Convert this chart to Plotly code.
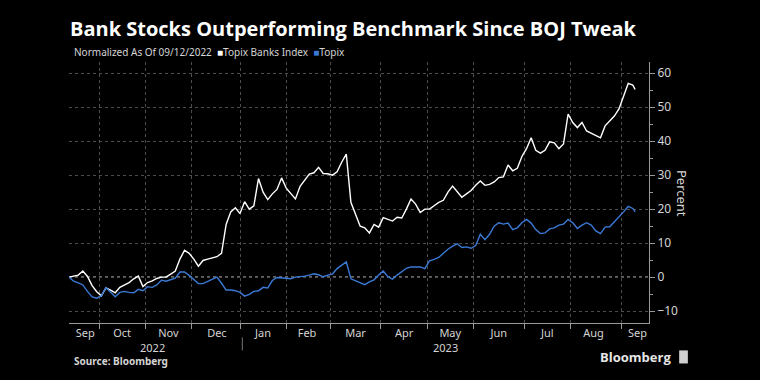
import pandas as pd
import plotly.graph_objects as go

# Tokyo Stock Exchange holidays falling on weekdays in the period
JP_HOLIDAYS = [
    "2022-09-19", "2022-09-23", "2022-10-10", "2022-11-03", "2022-11-23",
    "2023-01-02", "2023-01-03", "2023-01-09", "2023-02-23", "2023-03-21",
    "2023-05-03", "2023-05-04", "2023-05-05", "2023-07-17", "2023-08-11",
    "2023-09-18",
]

trading_days = [d for d in pd.bdate_range("2022-09-12", "2023-09-12")
                if d.strftime("%Y-%m-%d") not in JP_HOLIDAYS]
# values read every second trading session, plus the last session
sample_idx = list(range(0, 245, 2)) + [245]
dates = [trading_days[i] for i in sample_idx]

banks_index = [
    0, 0.2, 0.6, 1.8, 0.2, -2.5, -4.3, -5.5, -3.2, -3.8,
    -4.6, -3, -2.2, -1.6, -0.5, 0.3, -2.8, -1.6, -1.1, -0.4,
    0, 0, 0.9, 1.8, 5.3, 7.9, 7, 5.3, 3.2, 4.9,
    5.3, 5.6, 6, 7, 15.5, 19.2, 20.4, 18.7, 22.2, 20,
    21, 29, 25, 22.8, 24.5, 25.8, 29.2, 26.2, 24.5, 23,
    26.7, 28.5, 30.3, 30.7, 32.3, 30.5, 30.4, 30, 31, 33.8,
    36.2, 22, 18.5, 15, 14.5, 13, 15.5, 14.7, 17.5, 17,
    16.5, 17.6, 17.4, 20, 23, 21.5, 19, 20, 20, 21,
    22, 22.6, 25, 26.8, 25, 23.5, 24.5, 25.5, 27, 28.3,
    27, 27.3, 28, 29.3, 29.5, 33, 31.3, 32, 35.5, 37.8,
    41, 37.3, 36.5, 37.3, 39.8, 39.5, 37.8, 39.2, 48, 45.5,
    44, 45.5, 43, 42.3, 41.8, 41, 44.5, 45.9, 47.4, 49.5,
    53.5, 57, 56.5, 55.2,
]

topix = [
    0, -1.2, -1.7, -2.3, -4.2, -5.8, -6.2, -5.5, -3.1, -4.6,
    -5.8, -4.5, -4.2, -4.5, -4.6, -3.6, -4, -2.8, -3, -2.3,
    -0.9, -1.2, -0.7, -0.3, 1.5, 1.5, 0.5, -0.7, -1.9, -1.9,
    -1.2, -0.5, 0, -1.8, -3.8, -3.8, -4, -4.5, -5.6, -5.1,
    -4.2, -4, -3, -3.2, -1, -0.1, -0.2, -0.4, -0.5, 0,
    0.1, 0.3, 0.6, 1, 0.7, 0.1, 0.6, 0.9, 2.5, 3.5,
    4.5, -0.5, -1, -1.7, -2.2, -1.4, -0.8, 0.6, 1.8, 0.1,
    -0.6, 0.6, 1.5, 2.6, 3, 3, 3, 2.5, 4.8, 5.2,
    5.8, 7, 8.2, 9.1, 9.8, 8.7, 8.9, 8.5, 9.3, 12.6,
    11, 12.6, 15, 16, 15.6, 15.9, 14, 14.5, 16, 17,
    15.9, 14, 12.8, 13, 14.2, 14.5, 15.3, 15.6, 17, 16,
    14.3, 15.3, 16, 15.3, 13.6, 12.8, 14.7, 14.8, 16.2, 17.7,
    19.2, 20.8, 20.2, 19.2,
]

month_tick_dates = [
    "2022-09-22", "2022-10-18", "2022-11-16", "2022-12-16", "2023-01-18",
    "2023-02-14", "2023-03-16", "2023-04-17", "2023-05-18", "2023-06-16",
    "2023-07-18", "2023-08-16", "2023-09-12",
]
month_tick_labels = ["Sep", "Oct", "Nov", "Dec", "Jan", "Feb", "Mar",
                     "Apr", "May", "Jun", "Jul", "Aug", "Sep"]
year_label_dates = ["2022-11-07", "2023-05-16"]
year_labels = ["2022", "2023"]
year_break_date = "2023-01-04"

y_ticks = [-10, 0, 10, 20, 30, 40, 50, 60]

WHITE = "#ffffff"
BLUE = "#3a7ad6"
TXT = "#d4d4d4"
GRID = "#4d4d4d"
AXIS = "#9a9a9a"
FONT = "Noto Sans"

fig = go.Figure()
fig.add_trace(go.Scatter(x=dates, y=banks_index, mode="lines",
                         name="Topix Banks Index",
                         line=dict(color=WHITE, width=1.4)))
fig.add_trace(go.Scatter(x=dates, y=topix, mode="lines", name="Topix",
                         line=dict(color=BLUE, width=1.4)))

fig.update_layout(
    width=760, height=380,
    paper_bgcolor="#000000", plot_bgcolor="#000000",
    margin=dict(l=69, r=111, t=62, b=57),
    showlegend=False,
    font=dict(family=FONT, color=TXT, size=12),
    title=dict(text="<b>Bank Stocks Outperforming Benchmark Since BOJ Tweak</b>",
               x=70 / 760, xanchor="left", y=1 - 29 / 380, yanchor="middle",
               font=dict(family="Open Sans", size=20, color="#ffffff")),
)

fig.update_xaxes(
    type="date",
    range=["2022-09-12", "2023-09-20"],
    rangebreaks=[dict(bounds=["sat", "mon"]), dict(values=JP_HOLIDAYS)],
    tickmode="array", tickvals=month_tick_dates, ticktext=month_tick_labels,
    ticks="", ticklen=0, showgrid=False, zeroline=False,
    showline=True, linecolor=AXIS, linewidth=1,
    tickfont=dict(family=FONT, size=11, color=TXT),
    minor=dict(dtick="M1", tick0="2022-10-01", ticks="outside", ticklen=5,
               tickcolor=AXIS, showgrid=True, gridcolor=GRID,
               griddash="dot", gridwidth=1),
)

fig.update_yaxes(
    side="right",
    range=[-13.5, 63.3],
    tickmode="array", tickvals=y_ticks,
    ticks="outside", ticklen=5, tickcolor=AXIS,
    showline=True, linecolor=AXIS, linewidth=1,
    showgrid=True, gridcolor=GRID, griddash="dot", gridwidth=1,
    zeroline=False,
    tickfont=dict(family=FONT, size=12, color=TXT),
    minor=dict(dtick=5, tick0=0, ticks="outside", ticklen=3, tickcolor=AXIS,
               showgrid=False),
)

# dotted zero reference line
fig.add_shape(type="line", xref="paper", x0=0, x1=1, yref="y", y0=0, y1=0,
              line=dict(color="#c8c8c8", width=1.2, dash="dot"), layer="below")

# year separator under the axis
fig.add_shape(type="line", xref="x", x0=year_break_date, x1=year_break_date,
              yref="paper", y0=-0.055, y1=-0.105,
              line=dict(color="#777777", width=1))

for d, lab in zip(year_label_dates, year_labels):
    fig.add_annotation(x=d, xref="x", y=-0.094, yref="paper", text=lab,
                       showarrow=False, xanchor="center", yanchor="middle",
                       font=dict(family=FONT, size=11, color=TXT))

fig.add_annotation(
    x=0.006, xref="paper", y=1.038, yref="paper", xanchor="left",
    yanchor="middle", showarrow=False,
    text=("Normalized As Of 09/12/2022  "
          f"<span style='color:{WHITE}'>■</span>Topix Banks Index  "
          f"<span style='color:{BLUE}'>■</span>Topix"),
    font=dict(family=FONT, size=10, color=TXT))

fig.add_annotation(x=1.057, xref="paper", y=0.498, yref="paper",
                   text="Percent", textangle=90, showarrow=False,
                   xanchor="center", yanchor="middle",
                   font=dict(family=FONT, size=13, color=TXT))

fig.add_annotation(x=0.006, xref="paper", y=-0.145, yref="paper",
                   text="<b>Source: Bloomberg</b>", showarrow=False,
                   xanchor="left", yanchor="middle",
                   font=dict(family=FONT, size=10, color=TXT))

fig.add_annotation(x=1.041, xref="paper", y=-0.131, yref="paper",
                   text="<b>Bloomberg</b>", showarrow=False,
                   xanchor="right", yanchor="middle",
                   font=dict(family="Open Sans", size=13, color="#e6e6e6"))
fig.add_shape(type="rect", xref="paper", yref="paper",
              x0=1.052, x1=1.067, y0=-0.155, y1=-0.105,
              fillcolor="#d0d0d0", line=dict(width=0))

fig.write_html("out.html",
               config={"displayModeBar": False},
               post_script="document.body.style.margin='0';"
                           "document.body.style.overflow='hidden';")
